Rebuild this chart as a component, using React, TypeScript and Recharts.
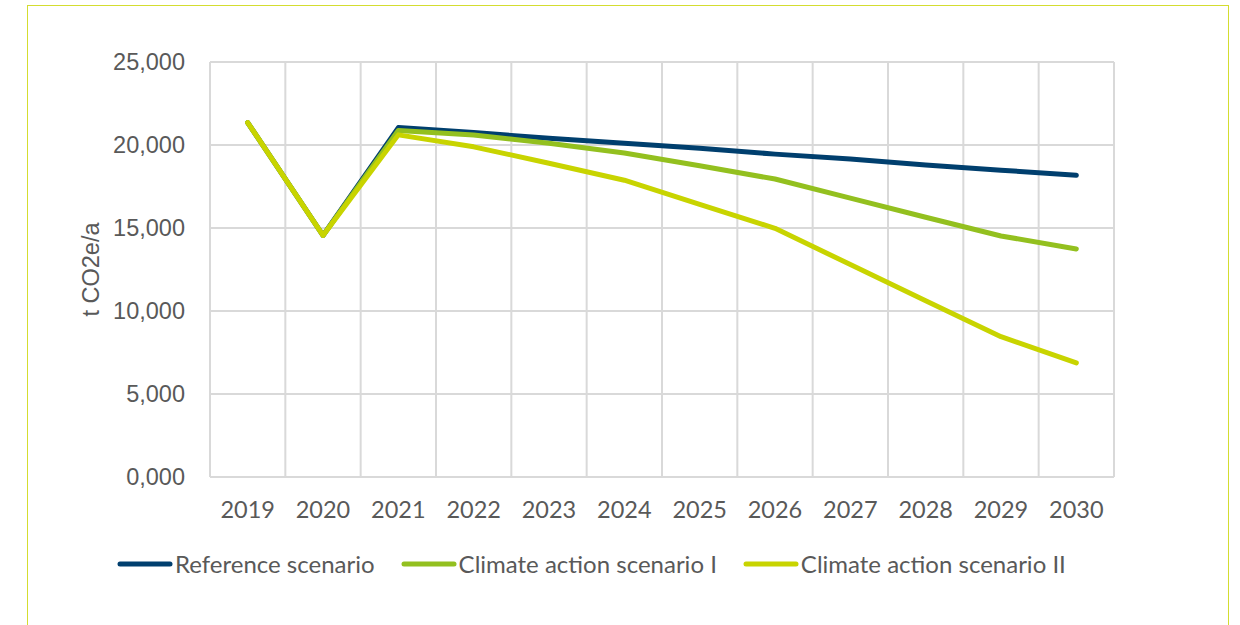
import { CartesianGrid, Line, LineChart, XAxis, YAxis } from "recharts";

const years = ["2019", "2020", "2021", "2022", "2023", "2024", "2025", "2026", "2027", "2028", "2029", "2030"];

// t CO2e per year
const referenceScenario = [21350, 14550, 21050, 20750, 20400, 20100, 19800, 19450, 19150, 18800, 18480, 18180];
const climateActionI = [21350, 14550, 20870, 20600, 20100, 19520, 18750, 17950, 16800, 15650, 14520, 13740];
const climateActionII = [21350, 14550, 20610, 19890, 18900, 17880, 16420, 14980, 12800, 10620, 8450, 6870];

const yTicks = [0, 5000, 10000, 15000, 20000, 25000];

const series = [
  { key: "reference", name: "Reference scenario", color: "#003f6e", values: referenceScenario },
  { key: "actionI", name: "Climate action scenario I", color: "#93c01f", values: climateActionI },
  { key: "actionII", name: "Climate action scenario II", color: "#c8d400", values: climateActionII },
];

// each year sits in the middle of its slot so gridlines fall on the slot edges
const data = years.map((year, i) => {
  const row: Record<string, number | string> = { pos: i + 0.5, year };
  series.forEach((s) => {
    row[s.key] = s.values[i];
  });
  return row;
});

const centerTicks = years.map((_, i) => i + 0.5);
const edgeTicks = years.map((_, i) => i).concat(years.length);

const textColor = "#595959";

function formatThousands(v: number) {
  if (v === 0) return "0,000";
  return v.toLocaleString("en-US");
}

function Legend() {
  return (
    <div
      style={{
        position: "absolute",
        left: 117,
        top: 549,
        display: "flex",
        alignItems: "center",
        gap: 26,
        fontFamily: "Lato, sans-serif",
        fontSize: 24,
        color: textColor,
        whiteSpace: "nowrap",
      }}
    >
      {series.map((s) => (
        <div key={s.key} style={{ display: "flex", alignItems: "center" }}>
          <svg width={56} height={10} style={{ marginRight: 2 }}>
            <line x1={3} y1={5} x2={53} y2={5} stroke={s.color} strokeWidth={5} strokeLinecap="round" />
          </svg>
          <span>{s.name}</span>
        </div>
      ))}
    </div>
  );
}

export default function App() {
  return (
    <div
      style={{
        position: "absolute",
        left: 0,
        top: 0,
        width: 1240,
        height: 625,
        background: "#fff",
        overflow: "hidden",
      }}
    >
      <div
        style={{
          position: "absolute",
          left: 27,
          top: 5,
          width: 1202,
          height: 640,
          border: "1.5px solid #d4dd30",
          boxSizing: "border-box",
        }}
      />
      <div style={{ position: "absolute", left: 0, top: 0 }}>
        <LineChart width={1240} height={625} data={data} margin={{ top: 62, right: 126, bottom: 108, left: 20 }}>
          <CartesianGrid xAxisId="edges" stroke="#d9d9d9" strokeWidth={2} />
          <XAxis
            xAxisId="edges"
            dataKey="pos"
            type="number"
            domain={[0, years.length]}
            ticks={edgeTicks}
            height={0}
            hide
          />
          <XAxis
            dataKey="pos"
            type="number"
            domain={[0, years.length]}
            ticks={centerTicks}
            tickFormatter={(v: number) => years[Math.floor(v)]}
            axisLine={false}
            tickLine={false}
            tickSize={0}
            tickMargin={24}
            height={40}
            interval={0}
            tick={{ fill: textColor, fontSize: 23.5, fontFamily: "Lato, sans-serif" }}
          />
          <YAxis
            domain={[0, 25000]}
            ticks={yTicks}
            tickFormatter={formatThousands}
            axisLine={false}
            tickLine={false}
            tickSize={0}
            tickMargin={25}
            width={190}
            tick={{ fill: textColor, fontSize: 23.5, fontFamily: "'Liberation Sans', Arial, sans-serif" }}
            label={{
              value: "t CO2e/a",
              angle: -90,
              position: "insideLeft",
              offset: 71,
              style: {
                textAnchor: "middle",
                fill: textColor,
                fontSize: 23.5,
                fontFamily: "'Liberation Sans', Arial, sans-serif",
              },
            }}
          />
          {series.map((s) => (
            <Line
              key={s.key}
              dataKey={s.key}
              name={s.name}
              type="linear"
              stroke={s.color}
              strokeWidth={5}
              strokeLinecap="round"
              strokeLinejoin="round"
              dot={false}
              activeDot={false}
              isAnimationActive={false}
            />
          ))}
        </LineChart>
      </div>
      <Legend />
    </div>
  );
}
